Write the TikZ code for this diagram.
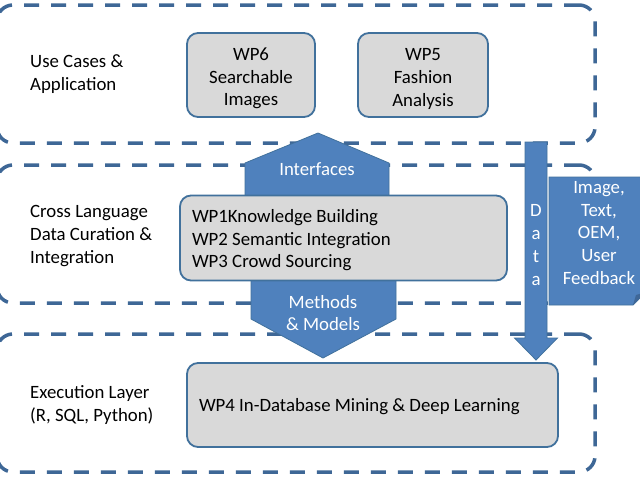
\documentclass[tikz,border=0pt]{standalone}
\usepackage{fontspec}
\setmainfont{Carlito}
\definecolor{bfill}{HTML}{4F81BD}
\definecolor{bline}{HTML}{3E6796}
\definecolor{bedge}{HTML}{41719C}
\definecolor{bfold}{HTML}{3F6797}
\definecolor{gfill}{HTML}{D9D9D9}
\newcommand{\upstrut}[1]{\rule{0pt}{#1}}
\begin{document}
\begin{tikzpicture}[x=1pt,y=-1pt,
  font=\fontsize{18.8}{22.6}\selectfont,
  region/.style={draw=bline, line width=3.5pt, dash pattern=on 15pt off 12pt, rounded corners=16pt, inner sep=0pt},
  wpbox/.style={draw=bedge, line width=1.8pt, fill=gfill, rounded corners=11pt, inner sep=0pt, align=center},
  bshape/.style={fill=bfill, draw=bedge, line width=0.8pt},
  wtext/.style={text=white, inner sep=0pt, align=center},
  lbl/.style={inner sep=0pt, align=left, anchor=west},
]
\useasboundingbox (0,0) rectangle (640,480);
\clip (0,0) rectangle (640,480);
\fill[white] (0,0) rectangle (640,480);

% layers
\node[region, minimum width=598pt, minimum height=138pt] (rtop) at (296,74) {};
\node[region, minimum width=598pt, minimum height=138pt] (rmid) at (296,234) {};
\node[region, minimum width=598pt, minimum height=138pt] (rbot) at (296,403) {};

% layer labels
\node[lbl] (l1) at (30,74) {Use Cases \&\\Application};
\node[lbl] (l2) at (30,236) {Cross Language\\Data Curation \&\\Integration};
\node[lbl] (l3) at (30,405) {Execution Layer\\(R, SQL, Python)};

% blue shapes
\draw[bshape] (245,215) -- (245,163) -- (318,133) -- (389,163) -- (389,215) -- cycle;
\draw[bshape] (251,260) -- (396,260) -- (396,319) -- (323,358) -- (251,319) -- cycle;
\draw[bshape] (525,142) -- (547,142) -- (547,338) -- (557.5,338) -- (536,360) -- (514.5,338) -- (525,338) -- cycle;
\draw[bshape] (549,177) -- (646,177) -- (646,292) -- (633,305) -- (549,305) -- cycle;
\fill[bfold] (633,305) -- (636,295) -- (646,292) -- cycle;

% work package boxes
\node[wpbox, minimum width=128pt, minimum height=84pt] (wp6) at (251,75) {\upstrut{20pt}WP6\\Searchable\\Images};
\node[wpbox, minimum width=130pt, minimum height=84pt] (wp5) at (423,75) {\upstrut{20pt}WP5\\Fashion\\Analysis};
\node[wpbox, minimum width=327pt, minimum height=85pt, align=flush left, text width=303pt] (wp13) at (343.5,238) {\upstrut{18pt}WP1Knowledge Building\\WP2 Semantic Integration\\WP3 Crowd Sourcing};
\node[wpbox, minimum width=371pt, minimum height=84pt, align=flush left, text width=347pt] (wp4) at (372.5,405) {\upstrut{17pt}WP4 In-Database Mining \& Deep Learning};

% white texts
\node[wtext] (intf) at (317,169) {Interfaces};
\node[wtext] (meth) at (323,313) {Methods\\\& Models};
\node[wtext, font=\fontsize{18.8}{23.3}\selectfont] (data) at (536,245) {D\\a\\t\\a};
\node[wtext] (feed) at (599,233) {Image,\\Text,\\OEM,\\User\\Feedback};
\end{tikzpicture}
\end{document}
